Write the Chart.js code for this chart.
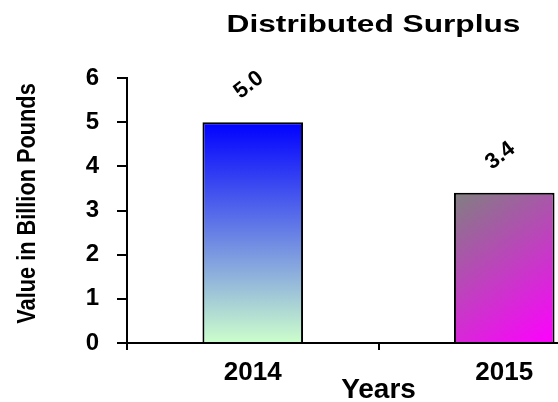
<!DOCTYPE html>
<html>
<head>
<meta charset="utf-8">
<script src="https://cdn.jsdelivr.net/npm/chart.js@4.4.1/dist/chart.umd.min.js"></script>
<style>
  html, body { margin: 0; padding: 0; overflow: hidden; background: #fff; }
  #wrap { width: 640px; height: 402px; position: relative; }
</style>
</head>
<body>
<div id="wrap"><canvas id="c"></canvas></div>
<script>
// Distributed surplus per year, in billion pounds
const years = ['2014', '2015'];
const surplus = [5.0, 3.4];
const yTicks = [0, 1, 2, 3, 4, 5, 6];

const chartTitle = 'Distributed Surplus';
const yTitle = 'Value in Billion Pounds';
const xTitle = 'Years';

const FONT = "'Liberation Sans', Arial, sans-serif";

// Gradient fill for each bar
const barFills = [
  { dir: 'vertical', from: '#0000ff', to: '#ccffcc' },
  { dir: 'diagonal', from: '#808080', to: '#ff00ff' }
];

function barFill(ctx) {
  const chart = ctx.chart;
  const f = barFills[ctx.dataIndex];
  if (!chart.chartArea) return f.to;
  const xs = chart.scales.x, ys = chart.scales.y;
  const cx = xs.getPixelForValue(ctx.dataIndex);
  const half = (xs.width / years.length) * 0.4 / 2;
  const top = ys.getPixelForValue(ctx.raw);
  const bottom = ys.getPixelForValue(0);
  const g = f.dir === 'vertical'
    ? chart.ctx.createLinearGradient(0, top, 0, bottom)
    : chart.ctx.createLinearGradient(cx - half, top, cx + half, bottom);
  g.addColorStop(0, f.from);
  g.addColorStop(1, f.to);
  return g;
}

// Rotated value labels above each bar
const valueLabels = {
  id: 'valueLabels',
  afterDatasetsDraw(chart) {
    const ctx = chart.ctx;
    const meta = chart.getDatasetMeta(0);
    ctx.save();
    ctx.font = 'bold 22px ' + FONT;
    ctx.fillStyle = '#000';
    ctx.textAlign = 'center';
    ctx.textBaseline = 'middle';
    meta.data.forEach((bar, i) => {
      ctx.save();
      ctx.translate(bar.x - 4, bar.y - 37);
      ctx.rotate(-38 * Math.PI / 180);
      ctx.fillText(surplus[i].toFixed(1), 0, 0);
      ctx.restore();
    });
    ctx.restore();
  }
};

// Wide chart title and condensed vertical axis title
const headings = {
  id: 'headings',
  afterDraw(chart) {
    const ctx = chart.ctx;
    const area = chart.chartArea;
    ctx.save();
    ctx.fillStyle = '#000';
    ctx.textAlign = 'center';

    // chart title, drawn wide
    ctx.save();
    ctx.font = 'bold 24px ' + FONT;
    ctx.textBaseline = 'alphabetic';
    ctx.translate((area.left + area.right) / 2 - 5, 32);
    ctx.scale(1.32, 1);
    ctx.fillText(chartTitle, 0, 0);
    ctx.restore();

    // y axis title, condensed
    ctx.save();
    ctx.font = 'bold 25px ' + FONT;
    ctx.textBaseline = 'middle';
    ctx.translate(28, (area.top + area.bottom) / 2 - 7);
    ctx.rotate(-Math.PI / 2);
    ctx.scale(0.87, 1);
    ctx.fillText(yTitle, 0, 0);
    ctx.restore();

    ctx.restore();
  }
};

new Chart(document.getElementById('c'), {
  type: 'bar',
  data: {
    labels: years,
    datasets: [{
      data: surplus,
      backgroundColor: barFill,
      borderColor: '#000',
      borderWidth: 2,
      barPercentage: 0.4,
      categoryPercentage: 1.0
    }]
  },
  options: {
    responsive: true,
    maintainAspectRatio: false,
    animation: false,
    layout: { padding: { top: 78, right: 10 } },
    plugins: {
      legend: { display: false },
      tooltip: { enabled: false },
      title: { display: false }
    },
    scales: {
      x: {
        offset: true,
        border: { display: true, color: '#000', width: 2 },
        grid: { offset: true, drawOnChartArea: false, drawTicks: true, tickLength: 7, color: '#000', lineWidth: 2 },
        ticks: { color: '#000', font: { family: FONT, size: 26, weight: 'bold' }, padding: 7, maxRotation: 0 },
        title: {
          display: true, text: xTitle, color: '#000',
          font: { family: FONT, size: 28, weight: 'bold', lineHeight: 0.83 },
          padding: 0
        },
        afterFit(s) { s.height = 59; }
      },
      y: {
        min: 0,
        max: 6,
        border: { display: true, color: '#000', width: 2 },
        grid: { drawOnChartArea: false, drawTicks: true, tickLength: 10, color: '#000', lineWidth: 2 },
        ticks: { color: '#000', font: { family: FONT, size: 24, weight: 'bold' }, padding: 18 },
        afterBuildTicks(s) { s.ticks = yTicks.map(v => ({ value: v })); },
        title: { display: false },
        afterFit(s) { s.width = 127; }
      }
    }
  },
  plugins: [valueLabels, headings]
});
</script>
</body>
</html>
